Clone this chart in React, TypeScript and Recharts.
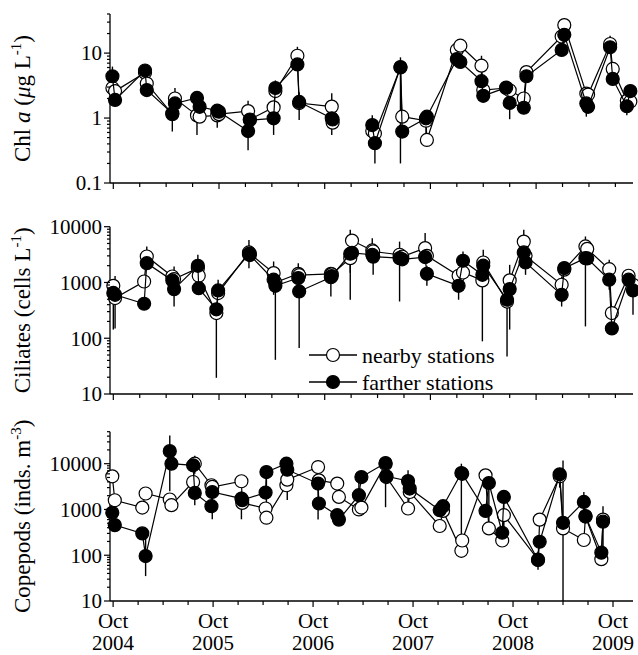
import React from "react";
import { ScatterChart, Scatter, XAxis, YAxis, ErrorBar, Legend } from "recharts";

const FONT = "'Liberation Serif', 'Times New Roman', serif";
const textStyle = { fontFamily: FONT };

// x values are months after 1 Oct 2004
const yearLabels = ["2004", "2005", "2006", "2007", "2008", "2009"];
const stationNames = ["nearby stations", "farther stations"];

// Chl a (ug L-1); no sampling between points 17 and 18
const chlMonths = [
  -0.1, 0.2, 3.6, 3.8, 6.7, 7.0, 9.5, 9.8, 11.8, 12.0, 15.3, 15.5, 18.2, 18.4, 20.9, 21.1, 24.8, 24.9,
  29.4, 29.7, 32.6, 32.8, 35.5, 35.6, 39.0, 39.4, 41.8, 42.0, 44.6, 45.0, 46.6, 46.9, 50.9, 51.2, 53.7, 53.9,
  56.4, 56.7, 58.3, 58.7,
];
const chlNear = [
  2.9, 2.6, 5.0, 3.4, 1.15, 2.0, 1.1, 1.05, 1.1, 1.15, 1.28, 0.95, 1.46, 2.6, 9.1, 1.7, 1.5, 0.85,
  0.63, 0.58, 6.0, 1.05, 0.91, 0.46, 11.2, 13, 6.4, 2.7, 2.9, 2.68, 2.0, 5.1, 18, 27, 2.38, 2.3, 13.8, 5.7,
  1.84, 1.8,
];
const chlFar = [
  4.4, 1.9, 5.4, 2.7, 1.18, 1.68, 2.04, 1.49, 1.3, 1.25, 0.63, 0.93, 0.99, 2.9, 6.7, 1.77, 0.99, 0.95,
  0.78, 0.41, 6.1, 0.62, 0.99, 1.05, 8.1, 7.3, 3.7, 2.2, 2.94, 1.71, 1.44, 4.4, 11.2, 19.1, 1.68, 1.49, 12.3,
  4.0, 1.52, 2.6,
];
const chlGapAt = 18;
// error bars: [point index, low, high]
const chlNearBars = [
  [5, 1.4, 2.9], [6, 0.55, 1.5], [10, 0.9, 1.84], [14, 6.5, 12.5], [16, 1.0, 2.4],
  [24, 8, 15.5], [26, 4.5, 9.1], [33, 20, 34.5], [36, 10, 18.5],
];
const chlFarBars = [
  [0, 3, 6.2], [4, 0.62, 1.6], [8, 0.71, 1.6], [10, 0.32, 0.9], [12, 0.55, 1.3], [13, 2.2, 3.8],
  [15, 0.93, 2.5], [16, 0.55, 1.3], [18, 0.5, 1.1], [19, 0.2, 0.6], [20, 0.2, 8.6], [22, 0.59, 1.3],
  [29, 0.96, 2.5], [34, 1.05, 2.4], [38, 1.1, 2],
];

// Ciliates (cells L-1)
const cilMonths = [
  0.0, 0.2, 3.5, 3.8, 6.7, 6.9, 9.6, 9.7, 11.7, 11.9, 15.4, 15.5, 18.2, 18.4, 21.0, 21.1, 24.7, 24.8,
  26.9, 27.1, 29.4, 29.5, 32.5, 32.8, 35.4, 35.6, 39.2, 39.7, 41.9, 42.0, 44.7, 45.0, 46.6, 46.8, 50.9,
  51.2, 53.6, 53.8, 56.3, 56.6, 58.5, 59.0,
];
const cilNear = [
  870, 525, 1040, 2920, 1280, 1150, 1800, 1320, 283, 645, 3450, 3300, 1470, 1000, 1430, 1350, 1430, 1400,
  2730, 5640, 3750, 3590, 3140, 2900, 4130, 3000, 1320, 1510, 1090, 2280, 455, 1090, 5400, 3000, 910, 1700,
  4420, 4000, 1730, 283, 1320, 910,
];
const cilFar = [
  650, 600, 415, 2220, 1090, 760, 1990, 790, 330, 720, 3220, 3100, 1120, 870, 1200, 690, 1240, 1300,
  3270, 3400, 3140, 2900, 2730, 2600, 2850, 1430, 870, 2450, 1370, 2000, 490, 760, 3450, 2280, 600, 1810,
  2730, 2700, 1120, 150, 1120, 720,
];
const cilNearBars = [
  [1, 150, 1300], [3, 2000, 4400], [8, 19.5, 400], [18, 490, 3500], [20, 2500, 6200], [24, 3000, 7670],
  [28, 88, 1500], [29, 1500, 3850], [32, 4000, 8800], [36, 3000, 6680],
];
const cilFarBars = [
  [0, 143, 900], [5, 370, 1930], [6, 1200, 3130], [9, 500, 1120], [10, 1800, 5800], [12, 600, 2380],
  [13, 41, 1100], [14, 700, 2220], [15, 67, 900], [16, 560, 1800], [18, 1500, 8800], [21, 1370, 3500],
  [22, 456, 5400], [25, 870, 2000], [26, 490, 1200], [27, 1500, 3590], [30, 47, 1000], [31, 143, 2070],
  [33, 1370, 3000], [34, 370, 1280], [36, 163, 4000], [38, 740, 2550], [41, 265, 1000],
];

// Copepods (inds. m-3)
const copMonths = [
  -0.1, 0.2, 3.5, 3.9, 6.8, 7.0, 9.6, 9.8, 11.8, 11.9, 15.4, 15.5, 18.3, 18.4, 20.8, 20.9, 24.6, 24.7,
  26.9, 27.1, 29.5, 29.8, 32.7, 32.8, 35.4, 35.6, 39.2, 39.6, 41.8, 41.9, 44.7, 45.1, 46.7, 46.9, 51.0,
  51.2, 53.6, 54.0, 56.5, 56.7, 58.6, 58.8,
];
const copNear = [
  5300, 1590, 1100, 2230, 1650, 1240, 3980, 10000, 3380, 3100, 4130, 1390, 1050, 660, 3380, 4490, 8450,
  4330, 3680, 1880, 1000, 1100, 9800, 5100, 1050, 2410, 435, 930, 125, 210, 5570, 385, 210, 750, 80, 600,
  5300, 385, 215, 700, 82, 600,
];
const copFar = [
  845, 455, 300, 96, 18800, 10000, 9200, 2300, 1180, 2410, 1730, 1600, 2340, 6570, 10000, 7400, 3680,
  1350, 750, 600, 2050, 5100, 10300, 5300, 4180, 2860, 965, 1180, 6250, 6000, 930, 3790, 310, 1880, 79,
  197, 5850, 510, 1460, 715, 114, 540,
];
const copNearBars = [[7, 6000, 14900], [10, 3000, 5000], [15, 1600, 6000], [36, 3000, 8000]];
const copFarBars = [
  [3, 35, 300], [4, 2500, 41400], [7, 1240, 4000], [9, 610, 4000], [10, 610, 2500], [13, 1050, 9000],
  [14, 7000, 13900], [16, 600, 5000], [20, 965, 5100], [22, 1120, 13000], [24, 1460, 7150],
  [28, 120, 10000], [31, 355, 7150], [33, 250, 2630], [34, 48, 120], [37, 10, 11800], [38, 800, 2400],
  [41, 60, 1180],
];

function toPoints(months: number[], values: number[], bars: number[][], from = 0, to = months.length) {
  return months.slice(from, to).map((t, k) => {
    const i = from + k;
    const v = values[i];
    const b = bars.find((e) => e[0] === i);
    return { t, v, err: b ? [v - b[1], b[2] - v] : [0, 0] };
  });
}

function logTicks(min: number, max: number) {
  const out: number[] = [];
  for (let d = min; d <= max; d *= 10) {
    for (let k = 1; k <= 9; k++) {
      const v = +(k * d).toPrecision(6);
      if (v <= max * 1.0001) out.push(v);
    }
  }
  return out;
}

const quarterTicks = (last: number) => Array.from({ length: last / 3 + 1 }, (_, i) => i * 3);

const openDot = (p: any) => (
  <circle cx={p.cx} cy={p.cy} r={6.5} fill="#fff" stroke="#000" strokeWidth={1.2} />
);
const filledDot = (p: any) => (
  <circle cx={p.cx} cy={p.cy} r={6.5} fill="#000" stroke="#000" strokeWidth={1.2} />
);

function QuarterTick(props: any) {
  const { x, y, payload, showYears } = props;
  const m = payload.value;
  const major = m % 12 === 0;
  return (
    <g>
      <line x1={x} x2={x} y1={y} y2={y + (major ? 6 : 4)} stroke="#000" strokeWidth={1.2} />
      {showYears && major && (
        <text x={x} y={y + 27} textAnchor="middle" style={textStyle} fontSize={21} fill="#000">
          <tspan x={x}>Oct</tspan>
          <tspan x={x} dy={22}>
            {yearLabels[m / 12]}
          </tspan>
        </text>
      )}
    </g>
  );
}

function LogTick(props: any) {
  const { x, y, payload } = props;
  const v = payload.value;
  const lg = Math.log10(v);
  const major = Math.abs(lg - Math.round(lg)) < 1e-6;
  return (
    <g>
      <line x1={x - (major ? 6 : 3)} x2={x} y1={y} y2={y} stroke="#000" strokeWidth={1.2} />
      {major && (
        <text x={x - 8} y={y} dy="0.35em" textAnchor="end" style={textStyle} fontSize={21} fill="#000">
          {v < 1 ? v.toFixed(1) : String(Math.round(v))}
        </text>
      )}
    </g>
  );
}

function Title({ cy, children }: any) {
  const x = 30;
  return (
    <text
      x={x}
      y={cy}
      transform={`rotate(-90 ${x} ${cy})`}
      textAnchor="middle"
      style={textStyle}
      fontSize={23}
      fill="#000"
    >
      {children}
    </text>
  );
}

function StationLegend({ payload }: any) {
  const items = stationNames
    .map((n) => (payload || []).find((e: any) => e.value === n && e.type !== "none"))
    .filter(Boolean);
  return (
    <svg width={240} height={80}>
      {items.map((e: any, i: number) => (
        <g key={e.value} transform={`translate(0, ${20 + i * 27})`}>
          <line x1={4} x2={52} y1={0} y2={0} stroke="#000" strokeWidth={1.3} />
          <circle cx={28} cy={0} r={6.5} fill={e.color} stroke="#000" strokeWidth={1.2} />
          <text x={57} y={0} dy="0.35em" style={textStyle} fontSize={22} fill="#000">
            {e.value}
          </text>
        </g>
      ))}
    </svg>
  );
}

const lineStyle = { stroke: "#000", strokeWidth: 1.2 };

function Panel(props: any) {
  const { height, top, xAxisHeight, xMax, xTicks, showYears, yDomain, title, near, far, legend } = props;
  const plotH = height - top - xAxisHeight;
  const series = (segs: any[], name: string, fill: string, shape: any) =>
    segs.map((seg: any[], i: number) => (
      <Scatter
        key={name + i}
        name={name}
        data={seg}
        fill={fill}
        shape={shape}
        line={lineStyle}
        lineType="joint"
        legendType={i === 0 ? "circle" : "none"}
        isAnimationActive={false}
      >
        <ErrorBar dataKey="err" direction="y" width={0} stroke="#000" strokeWidth={1.4} isAnimationActive={false} />
      </Scatter>
    ));
  return (
    <ScatterChart width={638} height={height} margin={{ top, right: 5, bottom: 0, left: 0 }}>
      <XAxis
        type="number"
        dataKey="t"
        domain={[-0.375, xMax]}
        ticks={xTicks}
        interval={0}
        tickSize={0}
        tickMargin={0}
        tickLine={false}
        height={xAxisHeight}
        axisLine={{ stroke: "#000", strokeWidth: 1.3 }}
        tick={<QuarterTick showYears={showYears} />}
      />
      <YAxis
        type="number"
        dataKey="v"
        scale="log"
        domain={yDomain}
        ticks={logTicks(yDomain[0], yDomain[1])}
        interval={0}
        width={110}
        tickSize={0}
        tickMargin={0}
        tickLine={false}
        axisLine={{ stroke: "#000", strokeWidth: 1.3 }}
        tick={<LogTick />}
        label={<Title cy={top + plotH / 2}>{title}</Title>}
      />
      {series(near, stationNames[0], "#fff", openDot)}
      {series(far, stationNames[1], "#000", filledDot)}
      {legend && (
        <Legend
          layout="vertical"
          align="center"
          verticalAlign="middle"
          content={<StationLegend />}
          wrapperStyle={{ position: "absolute", left: 305, top: 130, width: 240, height: 80 }}
        />
      )}
    </ScatterChart>
  );
}

export default function App() {
  const topTicks = quarterTicks(57);
  return (
    <div style={{ position: "absolute", left: 0, top: 0, width: 638, height: 655, background: "#fff" }}>
      <Panel
        height={205}
        top={14}
        xAxisHeight={22}
        xMax={59}
        xTicks={topTicks}
        yDomain={[0.1, 40]}
        title={
          <>
            {"Chl "}
            <tspan fontStyle="italic">a</tspan>
            {" ("}
            <tspan fontStyle="italic">μ</tspan>
            {"g L"}
            <tspan dy={-9} fontSize={15}>
              -1
            </tspan>
            <tspan dy={9}>)</tspan>
          </>
        }
        near={[
          toPoints(chlMonths, chlNear, chlNearBars, 0, chlGapAt),
          toPoints(chlMonths, chlNear, chlNearBars, chlGapAt),
        ]}
        far={[
          toPoints(chlMonths, chlFar, chlFarBars, 0, chlGapAt),
          toPoints(chlMonths, chlFar, chlFarBars, chlGapAt),
        ]}
      />
      <Panel
        height={215}
        top={21.7}
        xAxisHeight={26}
        xMax={59}
        xTicks={topTicks}
        yDomain={[10, 10000]}
        title={
          <>
            {"Ciliates (cells L"}
            <tspan dy={-9} fontSize={15}>
              -1
            </tspan>
            <tspan dy={9}>)</tspan>
          </>
        }
        near={[toPoints(cilMonths, cilNear, cilNearBars)]}
        far={[toPoints(cilMonths, cilFar, cilFarBars)]}
        legend
      />
      <Panel
        height={235}
        top={11.7}
        xAxisHeight={54}
        xMax={62.4}
        xTicks={quarterTicks(60)}
        showYears
        yDomain={[10, 50000]}
        title={
          <>
            {"Copepods (inds. m"}
            <tspan dy={-9} fontSize={15}>
              -3
            </tspan>
            <tspan dy={9}>)</tspan>
          </>
        }
        near={[toPoints(copMonths, copNear, copNearBars)]}
        far={[toPoints(copMonths, copFar, copFarBars)]}
      />
    </div>
  );
}
